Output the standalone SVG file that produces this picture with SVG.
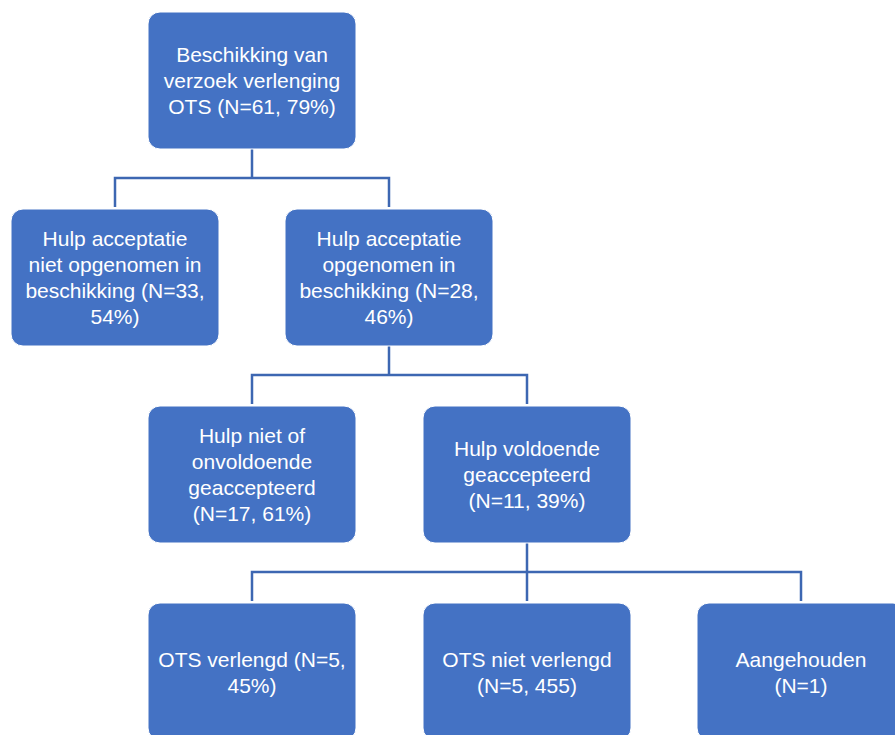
<svg xmlns="http://www.w3.org/2000/svg" width="895" height="735" viewBox="0 0 895 735">
<style>
.box{fill:#4472C4;stroke:#ffffff;stroke-width:1}
.t{font-family:"Liberation Sans",Arial,sans-serif;font-size:21px;fill:#ffffff;text-anchor:middle}
.c{fill:none;stroke:#3D67B2;stroke-width:2.5}
</style>
<rect width="895" height="735" fill="#ffffff"/>
<g id="connectors">
<path class="c" d="M252 149 V178 M115 207 V178 H389 V207"/>
<path class="c" d="M389 346 V375 M252 404 V375 H527 V404"/>
<path class="c" d="M527 543 V572 M252 601 V572 H801 V601 M527 572 V601"/>
</g>
<g id="n1"><rect class="box" x="148" y="12" width="208" height="137" rx="12"/>
<text class="t"><tspan x="252" y="62">Beschikking van</tspan><tspan x="252" y="88">verzoek verlenging</tspan><tspan x="252" y="114">OTS (N=61, 79%)</tspan></text></g>
<g id="n2"><rect class="box" x="11" y="209" width="208" height="137" rx="12"/>
<text class="t"><tspan x="115" y="246">Hulp acceptatie</tspan><tspan x="115" y="272">niet opgenomen in</tspan><tspan x="115" y="298">beschikking (N=33,</tspan><tspan x="115" y="324">54%)</tspan></text></g>
<g id="n3"><rect class="box" x="285" y="209" width="208" height="137" rx="12"/>
<text class="t"><tspan x="389" y="246">Hulp acceptatie</tspan><tspan x="389" y="272">opgenomen in</tspan><tspan x="389" y="298">beschikking (N=28,</tspan><tspan x="389" y="324">46%)</tspan></text></g>
<g id="n4"><rect class="box" x="148" y="406" width="208" height="137" rx="12"/>
<text class="t"><tspan x="252" y="443">Hulp niet of</tspan><tspan x="252" y="469">onvoldoende</tspan><tspan x="252" y="495">geaccepteerd</tspan><tspan x="252" y="521">(N=17, 61%)</tspan></text></g>
<g id="n5"><rect class="box" x="423" y="406" width="208" height="137" rx="12"/>
<text class="t"><tspan x="527" y="456">Hulp voldoende</tspan><tspan x="527" y="482">geaccepteerd</tspan><tspan x="527" y="508">(N=11, 39%)</tspan></text></g>
<g id="n6"><rect class="box" x="148" y="603" width="208" height="137" rx="12"/>
<text class="t"><tspan x="252" y="667">OTS verlengd (N=5,</tspan><tspan x="252" y="693">45%)</tspan></text></g>
<g id="n7"><rect class="box" x="423" y="603" width="208" height="137" rx="12"/>
<text class="t"><tspan x="527" y="667">OTS niet verlengd</tspan><tspan x="527" y="693">(N=5, 455)</tspan></text></g>
<g id="n8"><rect class="box" x="697" y="603" width="208" height="137" rx="12"/>
<text class="t"><tspan x="801" y="667">Aangehouden</tspan><tspan x="801" y="693">(N=1)</tspan></text></g>
</svg>
